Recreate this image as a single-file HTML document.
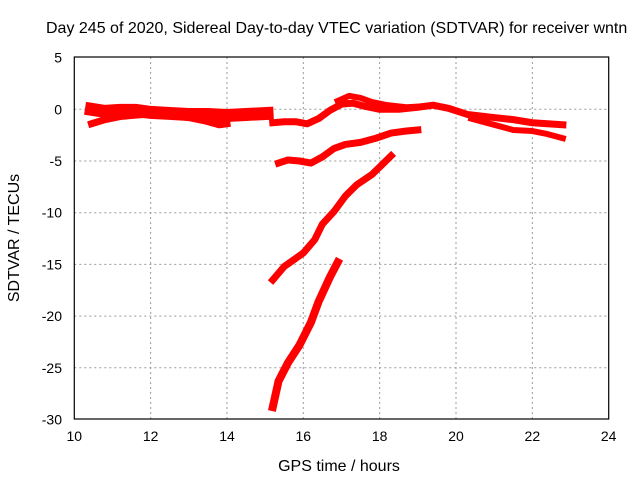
<!DOCTYPE html>
<html><head><meta charset="utf-8"><style>
body{margin:0;background:#fff}
svg text{font-family:"Liberation Sans",sans-serif;font-size:14px;fill:#000}
svg text.big{font-size:16px}
</style></head><body>
<svg id="c" width="640" height="480">
<text class="big" x="46" y="33">Day 245 of 2020, Sidereal Day-to-day VTEC variation (SDTVAR) for receiver wntn</text>
<text class="big" x="339" y="471" text-anchor="middle">GPS time / hours</text>
<text class="big" transform="translate(19,238) rotate(-90)" text-anchor="middle">SDTVAR / TECUs</text>
<g id="grid"></g><g id="ticks"></g><g id="series"></g>
<rect x="74.3" y="57" width="534.4" height="362" fill="none" stroke="#000" stroke-width="1.2"/>
</svg>
<script>
const xTicks=[10,12,14,16,18,20,22,24];
const yTicks=[5,0,-5,-10,-15,-20,-25,-30];
const bandA=[[10.45,0],[10.8,-0.2],[11.2,-0.1],[11.6,-0.1],[12,-0.3],[12.5,-0.4],[13,-0.5],[13.5,-0.5],[14,-0.6],[14.5,-0.5],[15.05,-0.4]];
const bandA2=[[10.45,-1.4],[10.8,-1.0],[11.2,-0.7],[11.8,-0.5],[12.5,-0.6],[13.0,-0.8],[13.4,-1.1],[13.8,-1.5],[14.0,-1.4]];
const bandB=[[15.2,-1.3],[15.5,-1.2],[15.8,-1.2],[16.1,-1.4],[16.4,-0.9],[16.7,-0.1],[17.0,0.5],[17.3,0.6],[17.6,0.3],[18.0,0.0],[18.5,0.0],[19.0,0.2],[19.4,0.4],[19.8,0.1],[20.3,-0.5],[21.0,-0.8],[21.5,-1.0],[22.0,-1.3],[22.8,-1.5]];
const bandB2=[[16.9,0.8],[17.2,1.3],[17.5,1.1],[17.8,0.7],[18.2,0.4],[18.7,0.2],[19.2,0.3]];
const bandB3=[[20.4,-0.9],[21.0,-1.5],[21.5,-2.0],[22.0,-2.1],[22.4,-2.4],[22.8,-2.8]];
const seriesC=[[15.35,-5.2],[15.6,-4.9],[15.9,-5.0],[16.2,-5.2],[16.5,-4.6],[16.8,-3.8],[17.1,-3.4],[17.5,-3.2],[17.9,-2.8],[18.3,-2.3],[18.7,-2.1],[19.0,-2.0]];
const dotC=[[15.3,-7.2]];
const seriesD=[[15.2,-16.5],[15.5,-15.2],[16.0,-13.9],[16.3,-12.6],[16.5,-11.1],[16.8,-9.9],[17.1,-8.4],[17.4,-7.3],[17.8,-6.3],[18.3,-4.5]];
const seriesE=[[15.2,-28.8],[15.35,-26.3],[15.6,-24.5],[15.9,-22.8],[16.2,-20.6],[16.4,-18.6],[16.7,-16.2],[16.9,-14.8]];
const X=v=>74.3+(v-10)*38.17, Y=v=>109.3-v*10.34;
const NS="http://www.w3.org/2000/svg";
const mk=(t,a,p)=>{const e=document.createElementNS(NS,t);for(const k in a)e.setAttribute(k,a[k]);p.appendChild(e);return e;};
const g=document.getElementById('grid'),tk=document.getElementById('ticks'),s=document.getElementById('series');
xTicks.forEach(v=>{
 if(v>10&&v<24){const l=mk('line',{x1:X(v),x2:X(v),y1:57,y2:419,stroke:'#999','stroke-dasharray':'2,3'},g);
 
 }
 const t=mk('text',{x:X(v),y:441,'text-anchor':'middle'},tk);t.textContent=v;
 
 
});
yTicks.forEach(v=>{
 if(v<5&&v>-30){const l=mk('line',{x1:74.3,x2:608.7,y1:Y(v),y2:Y(v),stroke:'#999','stroke-dasharray':'2,3'},g);
 
 }
 const t=mk('text',{x:62,y:Y(v)+5,'text-anchor':'end'},tk);t.textContent=v;
 
 
});
const draw=(d,w,name)=>{const p=mk('polyline',{points:d.map(q=>X(q[0])+','+Y(q[1])).join(' '),fill:'none',stroke:'#f00','stroke-width':w,'stroke-linejoin':'round','stroke-linecap':'square'},s);
 
 };
draw(bandA,13,'series-a-band');draw(bandA2,7,'series-a-lower');
draw(bandB,7,'series-b');draw(bandB2,6,'series-b-upper');draw(bandB3,6,'series-b-lower');
draw(seriesC,7,'series-c');draw(dotC,7,'series-c-dot');
draw(seriesD,7,'series-d');draw(seriesE,8,'series-e');
</script>
</body></html>
